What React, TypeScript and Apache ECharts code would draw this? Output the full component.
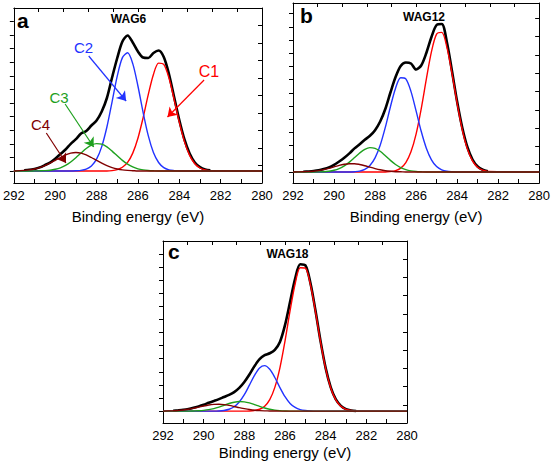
import React, { useEffect, useRef } from "react";
import * as echarts from "echarts";

// Binding energy grid (eV)
const energy = [292, 291.5, 291.25, 291, 290.75, 290.5, 290.25, 290, 289.75, 289.5, 289.25, 289, 288.75, 288.5, 288.25, 288, 287.75, 287.5, 287.25, 287, 286.75, 286.5, 286.25, 286, 285.75, 285.5, 285.25, 285, 284.75, 284.5, 284.25, 284, 283.75, 283.5, 283.25, 283, 282.75, 282.5, 280];

// Panel a — WAG6
const aEnv = [null, 0.6, 1.1, 2.1, 3.6, 5.9, 8.4, 12.3, 16.9, 21.5, 27.2, 31.8, 37.5, 40.0, 45.5, 50.5, 59.5, 73.0, 93.5, 113.0, 129.5, 135.5, 128.5, 119.5, 113.5, 113.0, 118.0, 120.5, 114.0, 97.0, 74.0, 51.0, 31.5, 17.5, 8.5, 3.8, 1.5, 0.6, null];
const aC1 = [0, 0, 0, 0, 0, 0, 0, 0, 0, 0, 0, 0, 0, 0, 0, 0, 0, 0, 0.4, 1.4, 3.7, 8.6, 17.9, 32.8, 53.2, 76.3, 96.5, 107.9, 106.6, 93.0, 71.7, 48.8, 29.4, 15.6, 7.3, 3.0, 1.1, 0.4, 0];
const aC2 = [0, 0, 0, 0, 0, 0, 0, 0, 0, 0, 0, 0.2, 0.6, 1.8, 5.0, 11.8, 24.4, 44.0, 69.2, 94.9, 113.4, 118.2, 107.4, 85.0, 58.7, 35.3, 18.5, 8.5, 3.4, 1.2, 0.4, 0, 0, 0, 0, 0, 0, 0, 0];
const aC3 = [0, 0, 0, 0.1, 0.2, 0.4, 0.8, 1.7, 3.2, 5.6, 9.0, 13.3, 18.0, 22.5, 25.9, 27.4, 26.8, 24.1, 19.9, 15.2, 10.6, 6.9, 4.1, 2.2, 1.1, 0.5, 0.2, 0, 0, 0, 0, 0, 0, 0, 0, 0, 0, 0, 0];
const aC4 = [0, 0.6, 1.1, 2.0, 3.4, 5.3, 7.8, 10.6, 13.5, 16.1, 17.9, 18.5, 17.9, 16.1, 13.5, 10.6, 7.8, 5.3, 3.4, 2.0, 1.1, 0.6, 0.3, 0, 0, 0, 0, 0, 0, 0, 0, 0, 0, 0, 0, 0, 0, 0, 0];

// Panel b — WAG12
const bEnv = [null, 0.2, 0.5, 0.9, 1.6, 2.9, 4.6, 7.2, 10.5, 14.2, 18.6, 23.6, 27.8, 32.3, 36.2, 41.8, 50.5, 63.0, 79.5, 95.0, 106.0, 109.5, 108.5, 102.5, 106.5, 119.0, 135.0, 147.0, 148.0, 130.0, 101.0, 70.5, 44.5, 25.0, 12.5, 5.5, 2.3, 0.8, null];
const bC1 = [0, 0, 0, 0, 0, 0, 0, 0, 0, 0, 0, 0, 0, 0, 0, 0, 0, 0, 0.5, 1.4, 3.9, 9.4, 20.2, 37.9, 63.2, 92.8, 120.3, 137.9, 139.6, 124.9, 98.7, 68.8, 42.4, 23.1, 11.1, 4.7, 1.8, 0.6, 0];
const bC2 = [0, 0, 0, 0, 0, 0, 0, 0, 0, 0, 0, 0.3, 0.9, 2.6, 6.5, 14.1, 26.7, 44.6, 65.3, 83.8, 94.3, 93.1, 80.6, 61.1, 40.7, 23.8, 12.2, 5.5, 2.2, 0.7, 0.2, 0, 0, 0, 0, 0, 0, 0, 0];
const bC3 = [0, 0, 0, 0, 0.1, 0.3, 0.8, 1.7, 3.4, 6.1, 9.9, 14.4, 19.0, 22.7, 24.4, 23.6, 20.7, 16.3, 11.6, 7.5, 4.3, 2.3, 1.1, 0.5, 0.2, 0, 0, 0, 0, 0, 0, 0, 0, 0, 0, 0, 0, 0, 0];
const bC4 = [0, 0.2, 0.4, 0.8, 1.4, 2.4, 3.6, 5.1, 6.6, 7.7, 8.3, 8.3, 7.5, 6.3, 4.8, 3.4, 2.2, 1.3, 0.7, 0.3, 0.2, 0, 0, 0, 0, 0, 0, 0, 0, 0, 0, 0, 0, 0, 0, 0, 0, 0, 0];

// Panel c — WAG18
const cEnv = [null, 0.4, 0.8, 1.3, 2.1, 3.3, 4.8, 6.5, 8.4, 10.2, 12.1, 14.3, 16.4, 19.2, 23.5, 29.5, 37.0, 45.5, 52.5, 56.5, 58.5, 62.0, 70.0, 87.0, 110.5, 134.0, 148.5, 147.5, 129.5, 101.5, 70.5, 43.5, 24.0, 11.8, 5.3, 2.0, 0.7, 0.2, null];
const cC1 = [0, 0, 0, 0, 0, 0, 0, 0, 0, 0, 0, 0, 0, 0, 0, 0, 0.2, 0.7, 1.9, 5.0, 11.7, 24.0, 43.8, 70.8, 101.5, 128.8, 145.0, 144.6, 127.9, 100.3, 69.7, 42.9, 23.4, 11.3, 4.9, 1.8, 0.6, 0.2, 0];
const cC2 = [0, 0, 0, 0, 0, 0, 0, 0, 0, 0, 0.2, 0.7, 1.9, 4.4, 9.2, 16.6, 26.3, 36.2, 43.7, 46.0, 42.3, 34.0, 23.8, 14.6, 7.8, 3.7, 1.5, 0.6, 0.2, 0, 0, 0, 0, 0, 0, 0, 0, 0, 0];
const cC3 = [0, 0, 0, 0, 0, 0.2, 0.4, 0.8, 1.5, 2.6, 4.1, 5.9, 7.7, 9.0, 9.7, 9.4, 8.3, 6.6, 4.8, 3.2, 1.9, 1.0, 0.5, 0.2, 0, 0, 0, 0, 0, 0, 0, 0, 0, 0, 0, 0, 0, 0, 0];
const cC4 = [0, 0.4, 0.7, 1.2, 1.9, 2.9, 4.0, 5.2, 6.2, 6.8, 7.0, 6.6, 5.8, 4.7, 3.5, 2.5, 1.6, 0.9, 0.5, 0.3, 0.2, 0.1, 0, 0, 0, 0, 0, 0, 0, 0, 0, 0, 0, 0, 0, 0, 0, 0, 0];

// Panel titles and component names
const panelLetters = ["a", "b", "c"];
const panelTitles = ["WAG6", "WAG12", "WAG18"];
const componentNames = ["C1", "C2", "C3", "C4"];
const axisTitle = "Binding energy (eV)";

// Annotation arrows of panel a: [fromE, fromY, toE, toY] per component
const arrowsA = [
  [282.8, 91, 284.57, 54],
  [288.38, 115, 286.57, 70],
  [289.52, 67, 288.14, 24],
  [290.43, 38, 289.48, 8],
];

const COLORS = ["#ff0000", "#2233ff", "#1ea01e", "#800000"];
const FONT = "'Liberation Sans', Arial, Helvetica, sans-serif";

const pairs = (arr: (number | null)[]) => energy.map((e, k) => [e, arr[k]]);
const steps = (step: number, max: number) => {
  const out: number[] = [];
  for (let i = 0; i * step <= max + 0.01; i++) out.push(+(i * step).toFixed(2));
  return out;
};

export default function App() {
  const ref = useRef<HTMLDivElement>(null);
  useEffect(() => {
    const chart = echarts.init(ref.current!, null, { renderer: "svg" });
    const panels = [
      { grid: { left: 10, top: 8, width: 252, height: 175 }, yMin: -12, yMax: 163, lStep: 13.6, rStep: 17.5, nameGap: 26, env: aEnv, comps: [aC1, aC2, aC3, aC4] },
      { grid: { left: 293, top: 3, width: 251, height: 180 }, yMin: -11, yMax: 169, lStep: 13.2, rStep: 18.3, nameGap: 26, env: bEnv, comps: [bC1, bC2, bC3, bC4] },
      { grid: { left: 163, top: 241, width: 244, height: 184 }, yMin: -12, yMax: 172, lStep: 13.25, rStep: 18.4, nameGap: 22, env: cEnv, comps: [cC1, cC2, cC3, cC4] },
    ];
    const axisLine = { show: true, onZero: false, lineStyle: { color: "#000", width: 1 } };
    const xAxis: any[] = [];
    const yAxis: any[] = [];
    const series: any[] = [];
    panels.forEach((p, i) => {
      xAxis.push({
        type: "value", gridIndex: i, position: "bottom", min: 280, max: 292, interval: 1, inverse: true,
        axisLine, splitLine: { show: false },
        axisTick: { inside: true, length: 4, lineStyle: { color: "#000" } },
        axisLabel: { margin: 6, color: "#000", fontSize: 13, fontFamily: FONT, formatter: (v: number) => (v % 2 === 0 ? String(v) : "") },
        name: axisTitle, nameLocation: "middle", nameGap: p.nameGap,
        nameTextStyle: { color: "#000", fontSize: 15, fontFamily: FONT },
      });
      xAxis.push({
        type: "value", gridIndex: i, position: "top", min: -1, max: 9,
        axisLine, splitLine: { show: false }, axisLabel: { show: false },
        axisTick: { inside: true, length: 4, lineStyle: { color: "#000" }, customValues: [0, 1, 2, 3, 4, 5, 6, 7, 8] },
      });
      yAxis.push({
        type: "value", gridIndex: i, position: "left", min: p.yMin, max: p.yMax,
        axisLine, splitLine: { show: false }, axisLabel: { show: false },
        axisTick: { show: true, inside: false, length: 4, lineStyle: { color: "#000" }, customValues: steps(p.lStep, p.yMax) },
      });
      yAxis.push({
        type: "value", gridIndex: i, position: "right", min: 0, max: p.grid.height,
        axisLine, splitLine: { show: false }, axisLabel: { show: false },
        axisTick: { show: true, inside: true, length: 4, lineStyle: { color: "#000" }, customValues: steps(p.rStep, p.grid.height) },
      });
      series.push({
        type: "line", name: panelTitles[i], xAxisIndex: i * 2, yAxisIndex: i * 2,
        data: pairs(p.env), showSymbol: false, smooth: 0.3,
        lineStyle: { color: "#000", width: 2.6 }, itemStyle: { color: "#000" }, z: 2,
      });
      p.comps.forEach((c, j) => {
        const s: any = {
          type: "line", name: `${panelTitles[i]} ${componentNames[j]}`, xAxisIndex: i * 2, yAxisIndex: i * 2,
          data: pairs(c), showSymbol: false, smooth: 0.3,
          lineStyle: { color: COLORS[j], width: 1.4 }, itemStyle: { color: COLORS[j] }, z: 3 + j,
        };
        if (i === 0) {
          const a = arrowsA[j];
          s.markLine = {
            silent: true, symbol: ["none", "arrow"], symbolSize: 9,
            lineStyle: { color: COLORS[j], width: 1.2, type: "solid" },
            label: { show: false },
            data: [[{ coord: [a[0], a[1]] }, { coord: [a[2], a[3]] }]],
          };
        }
        series.push(s);
      });
    });
    const txt = (text: string, x: number, y: number, font: string, fill = "#000", align = "center") => ({
      type: "text", x, y, silent: true,
      style: { text, fill, font, textAlign: align, textVerticalAlign: "middle" },
    });
    const graphic = [
      txt(panelLetters[0], 17, 20, `bold 21px ${FONT}`, "#000", "left"),
      txt(panelLetters[1], 300, 15, `bold 21px ${FONT}`, "#000", "left"),
      txt(panelLetters[2], 168, 251, `bold 21px ${FONT}`, "#000", "left"),
      txt(panelTitles[0], 128.5, 18.5, `bold 12px ${FONT}`),
      txt(panelTitles[1], 424, 17, `bold 12px ${FONT}`),
      txt(panelTitles[2], 287.5, 254, `bold 12px ${FONT}`),
      txt(componentNames[0], 209, 71, `16px ${FONT}`, COLORS[0]),
      txt(componentNames[1], 83.5, 47, `15px ${FONT}`, COLORS[1]),
      txt(componentNames[2], 59, 97, `15px ${FONT}`, COLORS[2]),
      txt(componentNames[3], 40.5, 124, `15px ${FONT}`, COLORS[3]),
    ];
    chart.setOption({
      animation: false,
      backgroundColor: "#fff",
      grid: panels.map((p) => ({ ...p.grid, containLabel: false })),
      xAxis, yAxis, series, graphic,
    });
    return () => chart.dispose();
  }, []);
  return <div ref={ref} style={{ position: "fixed", left: 0, top: 0, width: 553, height: 461, background: "#fff" }} />;
}
